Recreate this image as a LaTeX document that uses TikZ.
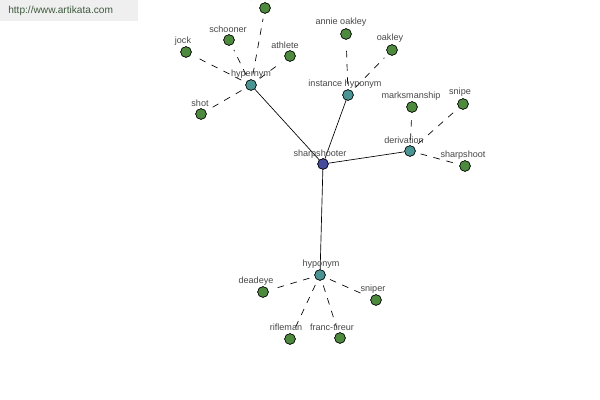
\documentclass[tikz,border=0pt]{standalone}
\usepackage{fontspec}
\setmainfont{Liberation Sans}
\begin{document}
\begin{tikzpicture}[x=0.75pt,y=-0.75pt,
  leaf/.style={circle,draw=black,line width=0.4pt,fill=leafgreen,minimum size=8pt,inner sep=0pt},
  rel/.style={circle,draw=black,line width=0.4pt,fill=relteal,minimum size=8pt,inner sep=0pt},
  hub/.style={circle,draw=black,line width=0.4pt,fill=hubblue,minimum size=8pt,inner sep=0pt},
  lbl/.style={font=\fontsize{6.8}{8}\selectfont,text=labelgray,inner sep=0pt},
  solidedge/.style={draw=black,line width=0.5pt},
  dashedge/.style={draw=black,line width=0.5pt,dash pattern=on 5pt off 5pt,shorten <=4pt,shorten >=4pt}]
\definecolor{leafgreen}{HTML}{4E8A3E}
\definecolor{relteal}{HTML}{4A9494}
\definecolor{hubblue}{HTML}{454A9A}
\definecolor{labelgray}{HTML}{484848}
\definecolor{bannergray}{HTML}{EFEFEF}
\definecolor{bannertext}{HTML}{3E5A3E}
\useasboundingbox (0,0) rectangle (600,400);
\clip (0,0) rectangle (600,400);
\fill[white] (0,0) rectangle (600,400);
\fill[bannergray] (0,0) rectangle (138,21);
\node[anchor=west,inner sep=0pt,font=\fontsize{7.6}{9}\selectfont,text=bannertext] (banner) at (8,11) {http://www.artikata.com};

% nodes
\node[hub] (ss) at (323,164) {};
\node[rel] (hyper) at (251,85) {};
\node[rel] (inst) at (348,95) {};
\node[rel] (deriv) at (410,151) {};
\node[rel] (hypo) at (320,275) {};

\node[leaf] (shooter) at (265,8) {};
\node[leaf] (schooner) at (229,40) {};
\node[leaf] (jock) at (186,52) {};
\node[leaf] (athlete) at (290,56) {};
\node[leaf] (shot) at (201,114) {};
\node[leaf] (annie) at (346,34) {};
\node[leaf] (oakley) at (392,50) {};
\node[leaf] (marks) at (412,107) {};
\node[leaf] (snipe) at (463,104) {};
\node[leaf] (sharpshoot) at (465,166) {};
\node[leaf] (deadeye) at (263,292) {};
\node[leaf] (sniper) at (376,300) {};
\node[leaf] (rifleman) at (290,339) {};
\node[leaf] (franc) at (340,338) {};

% edges
\path[solidedge] (ss) -- (hyper);
\path[solidedge] (ss) -- (inst);
\path[solidedge] (ss) -- (deriv);
\path[solidedge] (ss) -- (hypo);
\foreach \a in {shooter,schooner,jock,athlete,shot}
  \path[dashedge] (hyper) -- (\a);
\foreach \a in {annie,oakley}
  \path[dashedge] (inst) -- (\a);
\foreach \a in {marks,snipe,sharpshoot}
  \path[dashedge] (deriv) -- (\a);
\foreach \a in {deadeye,sniper,rifleman,franc}
  \path[dashedge] (hypo) -- (\a);

% redraw nodes on top
\node[hub] at (ss) {};
\foreach \n in {hyper,inst,deriv,hypo} \node[rel] at (\n) {};
\foreach \n in {shooter,schooner,jock,athlete,shot,annie,oakley,marks,snipe,sharpshoot,deadeye,sniper,rifleman,franc} \node[leaf] at (\n) {};

% labels
\node[lbl] (l-ss) at (320,154) {sharpshooter};
\node[lbl] (l-hyper) at (251,74) {hypernym};
\node[lbl] (l-inst) at (345,84) {instance hyponym};
\node[lbl] (l-deriv) at (404,140) {derivation};
\node[lbl] (l-hypo) at (321,264) {hyponym};
\node[lbl] (l-shooter) at (264,-3) {shooter};
\node[lbl] (l-schooner) at (228,29) {schooner};
\node[lbl] (l-jock) at (183,41) {jock};
\node[lbl] (l-athlete) at (285,45) {athlete};
\node[lbl] (l-shot) at (200,103) {shot};
\node[lbl] (l-annie) at (341,22) {annie oakley};
\node[lbl] (l-oakley) at (390,38) {oakley};
\node[lbl] (l-marks) at (411,96) {marksmanship};
\node[lbl] (l-snipe) at (460,92) {snipe};
\node[lbl] (l-sharpshoot) at (463,155) {sharpshoot};
\node[lbl] (l-deadeye) at (256,281) {deadeye};
\node[lbl] (l-sniper) at (373,289) {sniper};
\node[lbl] (l-rifleman) at (286,327) {rifleman};
\node[lbl] (l-franc) at (332,327) {franc-tireur};
\end{tikzpicture}
\end{document}
